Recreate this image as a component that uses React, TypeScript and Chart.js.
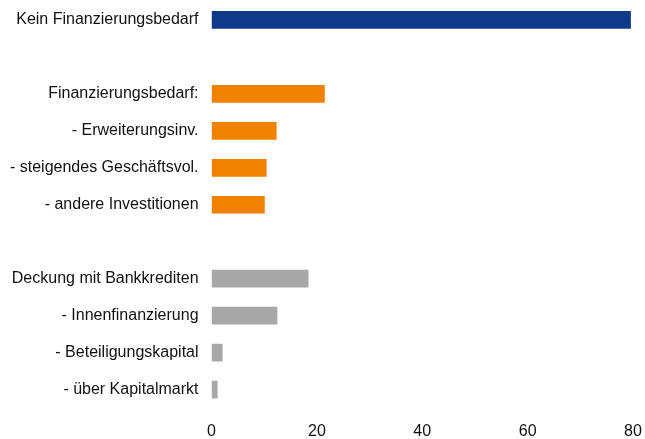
import React, { useEffect, useRef } from "react";
import { Chart, registerables } from "chart.js";

Chart.register(...registerables);

const categories: string[] = [
  "Kein Finanzierungsbedarf",
  "",
  "Finanzierungsbedarf:",
  "- Erweiterungsinv.",
  "- steigendes Geschäftsvol.",
  "- andere Investitionen",
  "",
  "Deckung mit Bankkrediten",
  "- Innenfinanzierung",
  "- Beteiligungskapital",
  "- über Kapitalmarkt",
];

const values: (number | null)[] = [79.6, null, 21.5, 12.35, 10.45, 10.1, null, 18.4, 12.5, 2.1, 1.15];

const BLUE = "#0F3A8A";
const ORANGE = "#F08200";
const GRAY = "#A8A8A8";
const barColors: string[] = [BLUE, BLUE, ORANGE, ORANGE, ORANGE, ORANGE, GRAY, GRAY, GRAY, GRAY, GRAY];

const xMin = 0;
const xMax = 80;
const xStep = 20;

const FONT = { family: "'Liberation Sans', Arial, sans-serif", size: 16 };

export default function App() {
  const ref = useRef<HTMLCanvasElement | null>(null);
  useEffect(() => {
    if (!ref.current) return;
    const chart = new Chart(ref.current, {
      type: "bar",
      data: {
        labels: categories,
        datasets: [
          {
            data: values,
            backgroundColor: barColors,
            borderWidth: 0,
            categoryPercentage: 1,
            barPercentage: 0.48,
          },
        ],
      },
      options: {
        indexAxis: "y",
        animation: false,
        responsive: false,
        maintainAspectRatio: false,
        layout: { padding: { left: -3, top: 1.5, right: 12, bottom: -0.5 } },
        plugins: {
          legend: { display: false },
          tooltip: { enabled: false },
        },
        scales: {
          x: {
            min: xMin,
            max: xMax,
            grid: { display: false, drawTicks: false },
            border: { display: false },
            ticks: {
              stepSize: xStep,
              color: "#111",
              padding: 14,
              font: FONT,
            },
            afterFit: (s: any) => {
              s.paddingLeft = 0;
              s.paddingRight = 0;
              s.height = 31.5;
            },
          },
          y: {
            grid: { display: false, drawTicks: false },
            border: { display: false },
            ticks: {
              color: "#111",
              padding: 13,
              autoSkip: false,
              font: FONT,
            },
            afterFit: (s: any) => {
              s.paddingTop = 0;
              s.paddingBottom = 0;
            },
          },
        },
      },
    });
    return () => chart.destroy();
  }, []);
  return (
    <div style={{ position: "absolute", left: 0, top: 0, width: 645, height: 439 }}>
      <canvas ref={ref} width={645} height={439} style={{ width: 645, height: 439 }} />
    </div>
  );
}
